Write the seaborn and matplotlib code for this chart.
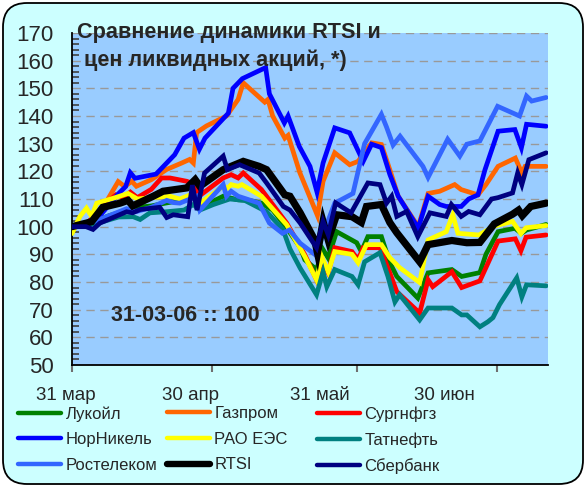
import numpy as np
import pandas as pd
import matplotlib
matplotlib.use("Agg")
import matplotlib.pyplot as plt
from matplotlib.patches import FancyBboxPatch
from matplotlib.transforms import IdentityTransform
from matplotlib.ticker import MultipleLocator, FixedLocator, NullFormatter
from matplotlib.lines import Line2D
import seaborn as sns

# days are counted from 31-03-2006, all prices indexed so that 31-03-06 = 100
lukoil_d = [0, 3, 5, 8, 10, 14, 17, 20, 24, 26, 27.4, 30, 32.4, 34.1, 35.6, 38, 40.6, 43, 46, 48.9, 49.9,
            52.4, 53.8, 54.9, 56.7, 61, 62, 63.4, 66.3, 68.1, 69.6, 74.1, 76.3, 81.4, 83.5, 87.4, 88.7,
            91.3, 94.9, 96.3, 97.4, 101.6]
lukoil_v = [100, 100.5, 102, 104, 105, 107, 107.5, 108.5, 109.7, 110.5, 107, 109, 111, 110.3, 109.7, 109.5,
            108.5, 106, 99.5, 92.5, 88, 84.5, 91.7, 88.7, 98.2, 94.2, 91, 96.4, 96.4, 87, 82, 74.2, 83.3,
            84.5, 82, 83.4, 90, 98.2, 99.4, 97.6, 98.8, 100.8]

gazprom_d = [0, 3, 5, 7, 9.9, 11.3, 12.8, 13.8, 17, 20.3, 23.5, 25.2, 26, 26.7, 28.8, 33.1, 35.6, 36.7, 41.3,
             42, 43, 45.6, 46.3, 48.8, 52.6, 53.8, 56.3, 59.5, 61.3, 64.2, 66.3, 68.1, 69.9, 74.2, 76.3,
             78.8, 82, 83.4, 87, 88.7, 91.3, 95, 96.4, 97.1, 101.6]
gazprom_v = [100, 101, 104, 108, 116.3, 114.5, 116.4, 114.6, 117, 120.7, 123, 124.3, 123, 134, 136.4, 140,
             146, 152, 145, 146, 140, 132, 133, 119.6, 104, 116.4, 126.7, 122.4, 123.6, 130.3, 129.7,
             120.6, 111, 100, 112, 112.8, 115.2, 113.4, 111.5, 115.2, 121.8, 124.8, 119.4, 121.8, 121.8]

surgut_d = [0, 3, 5, 7, 9.4, 11, 12.5, 14, 17, 19.2, 21, 24.6, 26, 27.2, 32.4, 34.1, 35.6, 36.7, 40.6, 46,
            49.9, 52.4, 53.8, 54.9, 56.3, 60, 61.3, 62.4, 66, 68.1, 69.6, 74.5, 76.3, 77.3, 81.4, 83.5,
            87.4, 91.3, 95, 96.2, 97.3, 101.6]
surgut_v = [100, 101, 104, 108, 111.5, 110.5, 112.5, 110.5, 113.5, 117.6, 117.6, 116.4, 115.5, 111, 117.6,
            118.8, 117.6, 119.4, 113.4, 101.3, 89.8, 80.8, 87, 83.3, 92.4, 91, 88, 92.4, 92.4, 83.3, 76.5,
            68.8, 80.8, 78.3, 83.7, 78, 80.4, 94.8, 95.6, 91.3, 96.2, 97]

nornickel_d = [0, 3, 5, 7, 10, 11.5, 12.5, 13.5, 15, 18, 20, 22, 24, 26, 27.3, 28.5, 33.5, 34.5, 36.5, 41.5,
               42.3, 45.5, 46.3, 48.7, 51, 52.5, 53.8, 56.3, 59.5, 62.4, 64.2, 66.3, 68.1, 69.9, 74.2,
               76.3, 78.8, 80.2, 83.4, 85, 87, 88.5, 91.3, 94.9, 96.3, 97.4, 101.6]
nornickel_v = [100, 100.5, 102, 106, 112, 114.5, 119.5, 117.5, 118, 119, 122.5, 126, 132, 134, 128, 132,
               141, 150, 153.5, 157.5, 148, 137.5, 140, 129, 121.8, 112.5, 123, 135.7, 133.9, 123.6, 129.8,
               128.6, 118.9, 111, 99.5, 111, 108, 107.3, 107.3, 110, 111.5, 120.6, 134.5, 135.1, 128.5,
               137, 136.3]

raoees_d = [0, 1.7, 3.1, 4.2, 5.3, 8.9, 12, 14, 17, 21, 23.1, 24.6, 26, 27.4, 32.4, 33.4, 34.1, 35.6, 36.4,
            40.6, 46, 49.9, 52.4, 53.5, 54.9, 56.3, 60, 61.3, 63.1, 66.3, 68.1, 70.2, 74.5, 76.3, 80.2,
            81.6, 82.7, 87.2, 90.5, 94.4, 96.2, 97.3, 101.6]
raoees_v = [97.5, 103.7, 106.7, 103.7, 108.5, 110.3, 112, 110, 110.5, 111, 110, 111, 112, 108.5, 114.6, 114,
            115.2, 114.6, 115.2, 111, 100.7, 89.2, 80.8, 89.2, 83.7, 91, 90, 87, 93.5, 93.5, 88.8, 85.2,
            79.8, 95.2, 98.2, 104.3, 97.6, 97, 100.2, 101.9, 97.5, 99.6, 100.4]

tatneft_d = [0, 3, 5, 7, 10, 13.1, 14.6, 16.7, 20.3, 24, 26, 27.4, 30.3, 33.8, 37, 41.7, 45.2, 46.7, 48.9,
             52.4, 53.8, 54.6, 56.3, 60, 61.3, 62.7, 66, 67.7, 69.2, 70.2, 74.5, 76.3, 81.4, 83.5, 84.6,
             87.4, 89.1, 90.2, 91.6, 95.3, 96.4, 97.4, 101.6]
tatneft_v = [100, 100.5, 101, 102, 103.5, 103.6, 102.6, 105, 105.4, 106, 108, 106, 108, 110, 109.5, 105.4,
             99, 92, 85, 75.4, 83.7, 78.3, 84.5, 82, 79, 87.3, 90.6, 82, 72.8, 75.4, 66.3, 70.6, 70.6,
             68.1, 68.1, 63.8, 65.6, 67.1, 71.8, 81.5, 74.6, 79, 78.6]

rostelecom_d = [0, 5, 11.7, 13.9, 17, 20.3, 21.7, 23.1, 25.3, 26.7, 27.4, 32.4, 33.1, 34.1, 35.6, 40.1, 42.3,
                45.1, 46.6, 48.9, 52.4, 53.5, 56.3, 60.2, 62.7, 66.3, 67.4, 68.8, 70.3, 75.2, 76.3, 80.5,
                83.1, 84.6, 87.4, 91.2, 95.9, 97.4, 98.5, 101.6]
rostelecom_v = [100, 102, 106.5, 105.5, 107, 109.5, 108.7, 108.5, 110, 111, 106, 115.2, 111, 112.8, 111,
                108.5, 101.3, 97.6, 98.8, 94, 89.5, 96, 108.5, 112, 130, 140.6, 136, 129.5, 132.7, 121.8,
                117.8, 131.6, 125.5, 129.8, 131, 143.5, 140, 147.2, 145.4, 146.7]

rtsi_d = [0, 3.1, 4.2, 6.6, 10.3, 12, 13, 17.4, 19.5, 24.6, 26.4, 27.4, 32.4, 34.1, 36.7, 40.1, 41.7, 45.6,
          46.7, 48.9, 52, 52.6, 53.8, 54.9, 56.7, 60, 62, 63.1, 66.3, 68.1, 69.6, 74.5, 76.3, 81.4, 84.6,
          87.4, 90.5, 94.4, 95.7, 96.5, 98.3, 101.6]
rtsi_v = [100, 101.3, 101.8, 107, 108.5, 109.5, 107.5, 111, 112.8, 114, 117, 114.6, 120.6, 121.8, 123.6,
          121.8, 120.6, 111.5, 111, 105, 95.2, 90.5, 101.8, 95.2, 104.3, 103.6, 101.5, 107.3, 108, 101.5,
          97.8, 87.3, 93.5, 95, 94.2, 94.3, 101, 104.5, 106, 104, 107.3, 108.5]

sber_d = [0, 3, 4.5, 6, 11.7, 13, 14.6, 18.8, 20.3, 21.7, 24.8, 25.8, 26.8, 28.4, 32.4, 33.3, 35.9, 40.1,
          41.7, 45.3, 46.7, 48.9, 52.4, 53.8, 54.9, 56.5, 59.8, 63.4, 66, 67.4, 68.5, 69.6, 71.7, 74.1,
          76.7, 80.2, 81.3, 83.4, 85, 87.4, 89.9, 91.3, 94.4, 95.5, 96.4, 97.9, 101.6]
sber_v = [100, 100, 99, 101.3, 105.4, 105, 106.2, 107, 103.3, 104.3, 103.6, 115, 106, 119.4, 125.5, 120.6,
          122.4, 119.4, 115.8, 107.3, 106, 101.3, 92.4, 101.9, 97.1, 108.6, 105, 115.8, 115.2, 108.5, 111,
          103.7, 105.5, 96.4, 105, 103.7, 108, 103.7, 105.5, 104.3, 110, 110.5, 112.2, 119.4, 115.2, 124.2,
          126.7]

names = ['Лукойл', 'Газпром', 'Сургнфгз', 'НорНикель', 'РАО ЕЭС', 'Татнефть', 'Ростелеком', 'RTSI', 'Сбербанк']
colors = ['#008000', '#FF6600', '#FF0000', '#0000FF', '#FFFF00', '#008080', '#3366FF', '#000000', '#000080']
series = [(lukoil_d, lukoil_v), (gazprom_d, gazprom_v), (surgut_d, surgut_v), (nornickel_d, nornickel_v),
          (raoees_d, raoees_v), (tatneft_d, tatneft_v), (rostelecom_d, rostelecom_v), (rtsi_d, rtsi_v),
          (sber_d, sber_v)]

month_ends = [0, 30, 61, 91]
month_labels = ['31 мар', '30 апр', '31 май', '30 июн']
label_days = [-1.3, 25.5, 53.1, 79.7]

sns.set_style("white")
plt.rcParams['font.family'] = ['Liberation Sans', 'DejaVu Sans']

fig = plt.figure(figsize=(5.87, 4.86), dpi=100)
fig.patch.set_facecolor('white')
box = FancyBboxPatch((3, 2), 580, 481, boxstyle="round,pad=0,rounding_size=24",
                     transform=IdentityTransform(), facecolor='#CCFFFF', edgecolor='black',
                     linewidth=1.3, zorder=-5)
fig.add_artist(box)

ax = fig.add_axes([72 / 587, 1 - 365 / 486, 476 / 587, 332 / 486])
ax.set_facecolor('#99CCFF')

for (d, v), name, c in zip(series, names, colors):
    lw = 5.2 if name == 'RTSI' else 3.4
    sns.lineplot(x=d, y=v, color=c, linewidth=lw, ax=ax, sort=False, estimator=None,
                 solid_joinstyle='miter', zorder=3)

ax.set_xlim(0, 102)
ax.set_ylim(50, 170)
ax.yaxis.set_major_locator(MultipleLocator(10))
ax.yaxis.set_minor_locator(MultipleLocator(2))
ax.grid(axis='y', which='major', color='#999999', linestyle=(0, (6, 4)), linewidth=1.0, zorder=1)
ax.set_axisbelow(True)
ax.tick_params(axis='y', which='major', direction='inout', length=10, width=1.2, color='#404040',
               labelsize=16, pad=8)
ax.tick_params(axis='y', which='minor', direction='in', length=5, width=1.2, color='#404040', left=True)
ax.xaxis.set_major_locator(FixedLocator(month_ends))
ax.xaxis.set_major_formatter(NullFormatter())
ax.tick_params(axis='x', which='major', direction='out', length=5, width=1.5, color='#707070', bottom=True)
for s in ['top', 'right']:
    ax.spines[s].set_visible(False)
for s in ['left', 'bottom']:
    ax.spines[s].set_color('black')
    ax.spines[s].set_linewidth(1.3)
ax.set_xlabel('')
ax.set_ylabel('')

for d, lab in zip(label_days, month_labels):
    ax.annotate(lab, xy=(d, 0), xycoords=('data', 'axes fraction'), xytext=(0, -30),
                textcoords='offset pixels', ha='center', va='center', fontsize=13.5,
                annotation_clip=False)

fig.text(77 / 587, 1 - 38 / 486, 'Сравнение динамики RTSI и', fontsize=15.6, fontweight='bold',
         ha='left', va='baseline')
fig.text(84 / 587, 1 - 66 / 486, 'цен ликвидных акций, *)', fontsize=15.6, fontweight='bold',
         ha='left', va='baseline')
ax.text(24.2, 68, '31-03-06 :: 100', fontsize=15.5, fontweight='bold', ha='center', va='center')

# legend: three columns laid out like the original
handles = [Line2D([], [], color=c, linewidth=(4.6 if n == 'RTSI' else 3.2), solid_capstyle='round')
           for n, c in zip(names, colors)]
col_x = [18, 167, 317]
for i, x0 in enumerate(col_x):
    idx = [i, i + 3, i + 6]
    fig.legend([handles[k] for k in idx], [names[k] for k in idx], loc='upper left',
               bbox_to_anchor=(x0 / 587, 1 - 406 / 486), frameon=False, fontsize=12,
               handlelength=2.6, handletextpad=0.25, labelspacing=0.64, borderpad=0,
               borderaxespad=0)

fig.savefig('out.png', dpi=100)
